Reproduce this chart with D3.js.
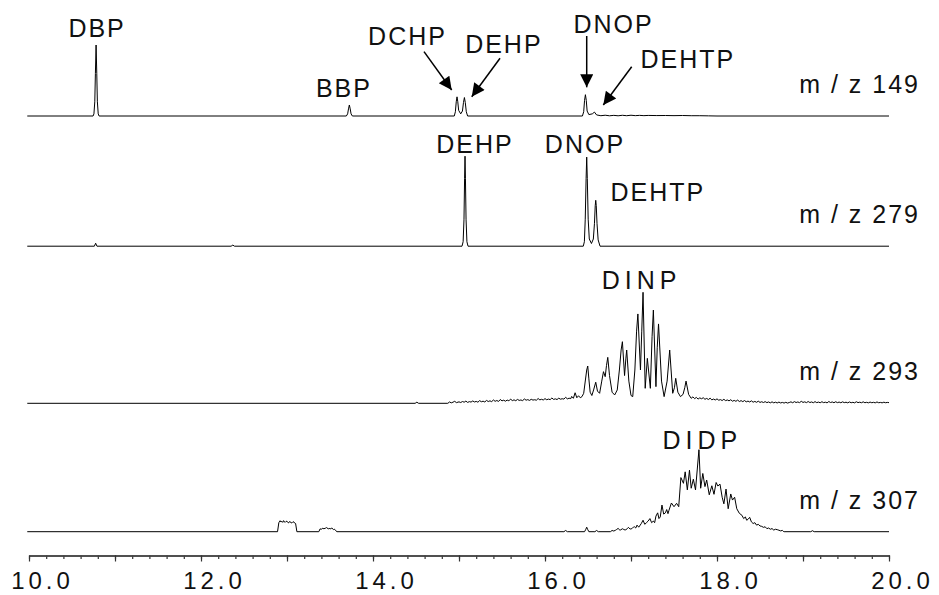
<!DOCTYPE html>
<html>
<head>
<meta charset="utf-8">
<script src="https://cdn.jsdelivr.net/npm/d3@7"></script>
<style>
  html, body { margin: 0; padding: 0; background: #fff; }
  svg { display: block; }
  text { font-family: "Liberation Sans", Arial, sans-serif; fill: #111; }
</style>
</head>
<body>
<svg id="chart" width="939" height="595"></svg>
<script>
// ---------------- DATA (retention time in min, relative intensity in % of the trace's largest peak) ----------------
const mzLabels = ["m / z 149", "m / z 279", "m / z 293", "m / z 307"];

const trace149 = [
  [9.98,0],[10.745,0],[10.755,3],[10.765,20],[10.772,60],[10.78,100],[10.788,60],[10.795,20],[10.805,3],[10.815,0],
  [13.69,0],[13.705,3],[13.715,10],[13.725,15.5],[13.735,10],[13.745,3],[13.76,0],
  [14.945,0],[14.958,6],[14.968,20],[14.977,27],[14.986,20],[14.996,8],[15.02,3],[15.04,7],[15.052,19],
  [15.063,26],[15.073,19],[15.085,6],[15.10,0],
  [16.435,0],[16.45,6],[16.46,22],[16.47,30],[16.48,22],[16.49,7],[16.51,2],[16.55,3],[16.575,5.5],[16.60,1.5],
  [16.65,0.4],[16.70,1.1],[16.75,0.3],[16.80,0.9],[16.85,0.3],[16.90,1.0],[16.95,0.4],[17.00,1.1],
  [17.05,0.5],[17.10,0.9],[17.15,0.5],[17.20,0.8],[17.30,0.6],[17.40,0.7],[17.50,0.5],[17.60,0.7],
  [17.70,0.4],[17.80,0.4],[17.90,0.2],[18.00,0],[20.0,0]
];

const trace279 = [
  [9.98,0],[10.76,0],[10.775,3.3],[10.79,0],[12.35,0],[12.37,1.2],[12.39,0],
  [15.035,0],[15.048,5],[15.058,30],[15.065,75],[15.07,100],[15.075,75],[15.082,30],[15.092,5],[15.105,0],
  [16.445,0],[16.458,5],[16.468,30],[16.478,75],[16.485,99],[16.492,75],[16.502,30],[16.515,8],[16.54,3],
  [16.562,8],[16.575,25],[16.584,45],[16.59,51],[16.596,45],[16.605,25],[16.618,7],[16.64,0],[20.0,0]
];

const trace293 = [
  [9.98,0],[14.49,0],[14.51,1],[14.53,0],[14.87,0],
  [14.89,1.2],[14.91,0.4],[14.93,1.0],[14.95,1.8],[14.97,0.6],[15.00,1.3],[15.02,0.7],[15.04,1.6],
  [15.06,1.0],[15.08,2.0],[15.10,0.8],[15.12,1.5],[15.14,1.1],[15.16,2.1],[15.18,1.2],[15.20,1.7],
  [15.22,1.0],[15.24,2.4],[15.26,1.4],[15.28,1.9],[15.30,1.2],[15.32,2.6],[15.34,1.6],[15.36,2.2],
  [15.38,1.5],[15.40,3.0],[15.42,1.8],[15.44,2.5],[15.46,1.7],[15.48,3.4],[15.50,2.2],[15.52,2.8],
  [15.54,1.9],[15.56,2.9],[15.58,2.2],[15.60,3.8],[15.62,2.4],[15.64,3.1],[15.66,2.3],[15.68,3.5],
  [15.70,2.6],[15.72,3.0],[15.74,2.4],[15.76,3.9],[15.78,2.8],[15.80,3.3],[15.82,2.6],[15.84,3.6],
  [15.86,2.9],[15.88,3.2],[15.90,2.8],[15.92,4.3],[15.94,3.1],[15.96,3.6],[15.98,3.0],[16.00,4.2],
  [16.02,3.2],[16.04,3.8],[16.06,3.3],[16.08,4.8],[16.10,3.5],[16.12,4.0],[16.14,3.4],[16.16,4.6],
  [16.18,3.7],[16.20,4.1],[16.22,3.8],[16.24,5.4],[16.26,4.0],[16.28,4.6],[16.30,4.2],[16.31,6.2],
  [16.33,4.5],[16.35,9.5],[16.37,5.0],[16.39,6.8],[16.41,5.0],[16.43,6.0],
  [16.45,9],[16.47,21],[16.485,30],[16.497,33.6],[16.51,22],[16.525,10],[16.545,7],[16.565,12],
  [16.59,19],[16.61,11],[16.635,9],[16.66,20],[16.68,28.5],[16.70,24],[16.715,34],[16.73,41.4],[16.75,25],
  [16.78,10],[16.81,7.5],[16.84,12],[16.865,30],[16.885,48],[16.90,55.5],[16.925,25],[16.94,40],[16.95,48],[16.975,20],
  [17.00,7],[17.02,6],[17.045,30],[17.065,65],[17.08,80.5],[17.11,30],[17.125,65],[17.14,100],[17.165,13.5],[17.19,40.5],[17.225,13.5],
  [17.245,60],[17.26,84],[17.29,15],[17.305,50],[17.32,71.5],[17.355,20],[17.385,6],[17.42,20],[17.45,48],[17.485,9],
  [17.505,14],[17.52,22.5],[17.545,10],[17.575,6],[17.605,8],[17.625,14],[17.64,20],[17.67,8],[17.70,4.5],
  [17.72,5.8],[17.74,4.2],[17.76,5.3],[17.78,3.8],[17.80,4.9],[17.82,4.1],[17.84,5.0],[17.86,3.6],
  [17.88,4.4],[17.90,3.4],[17.92,4.6],[17.94,3.1],[17.96,3.8],[17.98,3.0],[18.00,4.0],[18.02,2.8],
  [18.04,3.3],[18.06,2.5],[18.08,3.6],[18.10,2.4],[18.12,3.0],[18.14,2.2],[18.16,3.2],[18.18,1.9],
  [18.20,2.6],[18.22,1.8],[18.24,2.9],[18.26,1.6],[18.28,2.4],[18.30,1.5],[18.32,2.5],[18.34,1.3],
  [18.36,2.0],[18.38,1.2],[18.40,2.2],[18.42,1.0],[18.44,1.7],[18.46,0.9],[18.48,1.9],[18.50,0.8],
  [18.52,1.4],[18.54,0.7],[18.56,1.5],[18.58,0.6],[18.60,1.2],[18.62,0.4],[18.64,1.3],[18.66,0.4],
  [18.68,1.0],[18.70,0.3],[18.72,1.1],[18.74,0.3],[18.76,0.8],[18.78,0.2],[18.80,0.9],[18.82,0.2],
  [18.84,0.7],[18.86,1.3],[18.88,0.5],[18.90,1.5],[18.92,0.7],[18.94,1.2],[18.96,0.6],[18.98,1.8],
  [19.00,0.8],[19.02,1.3],[19.04,0.6],[19.06,1.6],[19.08,0.7],[19.10,1.2],[19.12,0.5],[19.14,1.5],
  [19.16,0.6],[19.18,1.1],[19.20,0.5],[19.22,1.4],[19.24,0.6],[19.26,1.0],[19.28,0.4],[19.30,1.6],
  [19.32,0.7],[19.34,1.2],[19.36,0.5],[19.38,1.4],[19.40,0.6],[19.42,1.1],[19.44,0.5],[19.46,1.3],
  [19.48,0.6],[19.50,1.0],[19.52,0.4],[19.54,1.2],[19.56,0.5],[19.58,0.9],[19.60,0.4],[19.62,1.4],
  [19.64,0.6],[19.66,1.0],[19.68,0.5],[19.70,1.3],[19.72,0.5],[19.74,0.9],[19.76,0.4],[19.78,1.1],
  [19.80,0.5],[19.82,0.9],[19.84,0.4],[19.86,1.2],[19.88,0.5],[19.90,0.8],[19.92,0.4],[19.94,1.0],
  [19.96,0.5],[19.98,0.8],[20.0,0.6]
];

const trace307 = [
  [9.98,0],[12.89,0],[12.905,11],[12.92,13.4],[12.93,11.8],[12.94,12.6],[12.95,11.4],[12.96,13.5],[12.97,11.9],
  [12.98,11.5],[12.99,12.6],[13.00,12.8],[13.01,11.2],[13.02,10.8],[13.03,12.4],[13.04,12],[13.05,10.6],
  [13.06,11],[13.07,12.2],[13.08,11.8],[13.09,10.4],[13.10,10],[13.115,0],
  [13.37,0],[13.385,3.5],[13.40,2.8],[13.41,4.2],[13.43,3.6],[13.45,4.4],[13.46,5],[13.48,3.5],[13.49,4],
  [13.51,3.4],[13.52,4.6],[13.54,2.6],[13.55,3.2],[13.57,1],[13.58,0],
  [16.22,0],[16.24,1.5],[16.26,0],[16.46,0],[16.475,3],[16.485,5.5],[16.495,3],[16.51,0],[16.58,0],[16.60,1.5],[16.62,0],
  [16.76,0],[16.78,1.5],[16.80,0.8],[16.82,1.8],[16.83,2.5],[16.85,4],[16.87,2.0],[16.88,2.2],[16.90,3.6],[16.91,3],
  [16.93,2.1],[16.94,2.4],[16.96,4.0],[16.97,5.3],[16.99,3.2],[17.01,3.7],[17.03,5.8],[17.04,6],[17.055,4.5],
  [17.07,8],[17.09,5.5],[17.10,7],[17.12,10],[17.14,14],[17.16,9],[17.18,11],[17.20,13],[17.22,16],[17.24,11],
  [17.26,13],[17.275,11],[17.29,19],[17.31,23],[17.325,16],[17.34,18],[17.36,32.5],[17.38,21.5],[17.40,23],
  [17.415,27],[17.43,22],[17.44,25.6],[17.47,35],[17.50,30.5],[17.53,34.6],
  [17.555,30.5],[17.58,66],[17.61,59],[17.63,73],[17.655,51],[17.68,75],[17.70,53],[17.725,64],
  [17.75,51],[17.79,100],[17.81,53],[17.835,71],[17.86,55],[17.88,63],[17.91,45],[17.94,56],
  [17.965,45.6],[17.99,60],[18.01,55.7],[18.035,58],[18.06,42],[18.08,34],[18.105,52],[18.13,28],
  [18.16,46],[18.18,38.6],[18.205,42],[18.23,28],[18.26,22.4],[18.29,20],[18.31,16],[18.33,18],[18.345,14],
  [18.36,15],[18.38,17.5],[18.40,12],[18.42,10],[18.44,11],[18.46,8],[18.48,9],[18.50,7],[18.52,6.5],
  [18.54,5.3],[18.56,6],[18.58,3.7],[18.60,4.5],[18.62,3],[18.64,3.8],[18.66,2],[18.68,3],
  [18.70,2.5],[18.72,1.8],[18.74,1],[18.76,1.6],[18.77,0.5],[18.78,0],[19.09,0],[19.11,1.2],[19.13,0],[20.0,0]
];

const traces = [trace149, trace279, trace293, trace307];

const xTickMinor = d3.range(0, 51).map(i => 10 + i * 0.2);
const xTickMajor = [10, 11, 12, 13, 14, 15, 16, 17, 18, 19, 20];
const xTickLabels = [10, 12, 14, 16, 18, 20];

// peak labels: trace index, text, rt (center), level (% of trace scale) for baseline
const peakLabels = [
  { t: 0, text: "DBP",   rt: 10.78,  lv: 111 },
  { t: 0, text: "BBP",   rt: 13.65,  lv: 26.8 },
  { t: 0, text: "DCHP",  rt: 14.39,  lv: 100 },
  { t: 0, text: "DEHP",  rt: 15.51,  lv: 88.7 },
  { t: 0, text: "DNOP",  rt: 16.785, lv: 117 },
  { t: 0, text: "DEHTP", rt: 17.65,  lv: 67.6 },
  { t: 1, text: "DEHP",  rt: 15.174, lv: 103.7 },
  { t: 1, text: "DNOP",  rt: 16.453, lv: 103.7 },
  { t: 1, text: "DEHTP", rt: 17.30,  lv: 50 },
  { t: 2, text: "DINP",  rt: 17.093, lv: 103, wide: true },
  { t: 3, text: "DIDP",  rt: 17.80,  lv: 100.9, wide: true }
];

// arrows on the m/z 149 trace: from (rt0, lv0) to tip (rt1, lv1)
const arrows = [
  { rt0: 14.593, lv0: 90.6,  rt1: 14.915, lv1: 36.6 },
  { rt0: 15.477, lv0: 81.3,  rt1: 15.148, lv1: 27.2 },
  { rt0: 16.485, lv0: 112.7, rt1: 16.485, lv1: 40.4 },
  { rt0: 17.008, lv0: 69.4,  rt1: 16.678, lv1: 15.5 }
];

// ---------------- LAYOUT ----------------
const W = 939, H = 595;
const panelLayout = [
  { base: 116,   height: 71 },
  { base: 246.2, height: 90 },
  { base: 403.3, height: 111 },
  { base: 531.7, height: 82 }
];
const axisY = 555.5;

const svg = d3.select("#chart");
svg.append("rect").attr("width", W).attr("height", H).attr("fill", "#fff");

const x = d3.scaleLinear().domain([10, 20]).range([29, 889]);
const yScales = panelLayout.map(p => d3.scaleLinear().domain([0, 100]).range([p.base, p.base - p.height]));

// traces
traces.forEach((tr, i) => {
  const y = yScales[i];
  const line = d3.line().x(d => x(d[0])).y(d => y(d[1])).curve(d3.curveLinear);
  svg.append("path")
    .datum(tr)
    .attr("d", line)
    .attr("fill", "none")
    .attr("stroke", "#000")
    .attr("stroke-width", 1)
    .attr("stroke-linejoin", "round");
});

// m/z labels
svg.selectAll("text.mz")
  .data(mzLabels)
  .join("text")
  .attr("class", "mz")
  .attr("x", x(20) + 31)
  .attr("y", (d, i) => panelLayout[i].base - 23)
  .attr("text-anchor", "end")
  .attr("font-size", 25)
  .attr("letter-spacing", 2)
  .text(d => d);

// peak labels
svg.selectAll("text.pk")
  .data(peakLabels)
  .join("text")
  .attr("class", "pk")
  .attr("x", d => x(d.rt) + (d.wide ? 2.5 : 1))
  .attr("y", d => yScales[d.t](d.lv))
  .attr("text-anchor", "middle")
  .attr("font-size", 25)
  .attr("letter-spacing", d => d.wide ? 5 : 2)
  .text(d => d.text);

// arrows
const defs = svg.append("defs");
defs.append("marker")
  .attr("id", "ah")
  .attr("viewBox", "0 0 10 10")
  .attr("refX", 10).attr("refY", 5)
  .attr("markerUnits", "userSpaceOnUse")
  .attr("markerWidth", 16).attr("markerHeight", 13)
  .attr("orient", "auto")
  .append("path").attr("d", "M0,0 L10,5 L0,10 Z").attr("fill", "#000");

svg.selectAll("line.arr")
  .data(arrows)
  .join("line")
  .attr("class", "arr")
  .attr("x1", d => x(d.rt0)).attr("y1", d => yScales[0](d.lv0))
  .attr("x2", d => x(d.rt1)).attr("y2", d => yScales[0](d.lv1))
  .attr("stroke", "#000").attr("stroke-width", 1.5)
  .attr("marker-end", "url(#ah)");

// x axis
const gMinor = svg.append("g").attr("transform", `translate(0,${axisY})`)
  .call(d3.axisBottom(x).tickValues(xTickMinor).tickSize(3.5).tickSizeOuter(0).tickFormat(""));
const gMajor = svg.append("g").attr("transform", `translate(0,${axisY})`)
  .call(d3.axisBottom(x).tickValues(xTickMajor).tickSize(6).tickSizeOuter(0).tickFormat(""));
[gMinor, gMajor].forEach(g => {
  g.select(".domain").attr("stroke", "#444").attr("stroke-width", 1.5);
  g.selectAll(".tick line").attr("stroke", "#333").attr("stroke-width", 1.2);
});

svg.selectAll("text.tl")
  .data(xTickLabels)
  .join("text")
  .attr("class", "tl")
  .attr("x", d => x(d) + 13.5)
  .attr("y", 588.5)
  .attr("text-anchor", "middle")
  .attr("font-size", 24)
  .attr("letter-spacing", 4)
  .text(d => d3.format(".1f")(d));
</script>
</body>
</html>
